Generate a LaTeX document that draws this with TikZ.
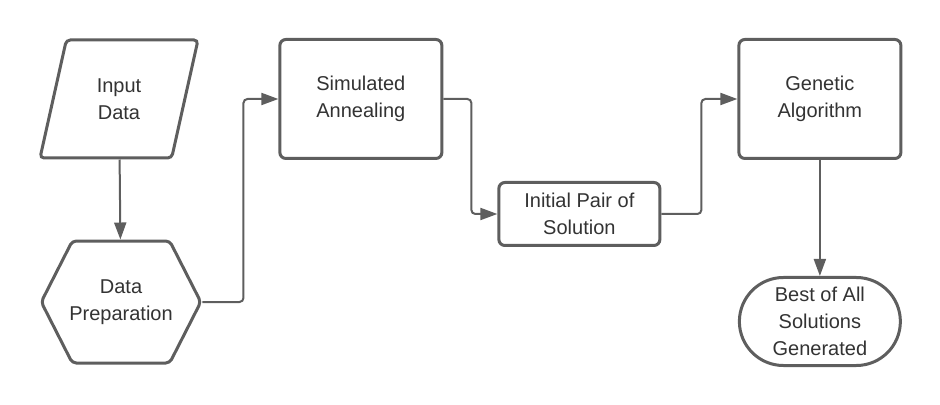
\documentclass[tikz,border=0pt]{standalone}
\usepackage{fontspec}
\setmainfont{Liberation Sans}
\usepackage{tikz}
\usetikzlibrary{shapes.geometric, shapes.symbols, arrows.meta, positioning, calc}
\definecolor{linegray}{HTML}{5E5E5E}
\definecolor{textgray}{HTML}{333333}

\begin{document}
\begin{tikzpicture}[
  font=\fontsize{10}{13.5}\selectfont, text=textgray,
  base/.style={draw=linegray, line width=1.5pt, fill=white, align=center,
               inner sep=2pt},
  iobox/.style={base, trapezium, trapezium left angle=75,
                trapezium right angle=105, trapezium stretches=true,
                rounded corners=2pt, minimum width=79pt, minimum height=59pt},
  prepbox/.style={base, signal, signal from=nowhere, signal to=east and west,
                  signal pointer angle=126, rounded corners=2pt,
                  inner xsep=-1.5pt, minimum width=72pt, minimum height=61pt},
  procbox/.style={base, rectangle, rounded corners=3pt,
                  minimum width=81pt, minimum height=59.5pt},
  smallbox/.style={base, rectangle, rounded corners=3pt,
                   minimum width=80.5pt, minimum height=31.5pt},
  endbox/.style={base, rectangle, rounded corners=22pt,
                 minimum width=80.5pt, minimum height=44pt},
  arr/.style={-{Triangle[length=8.5pt,width=6pt]}, draw=linegray,
              line width=1pt, rounded corners=2pt},
]
  \useasboundingbox (-59.5pt,49.5pt) rectangle (410.5pt,-153pt);

  %% left column
  \node[iobox] (indata) at (0,0) {Input\\Data};
  \node[prepbox, below=40pt of indata, xshift=1pt] (prep) {Data\\Preparation};

  %% middle
  \node[procbox, right=46pt of indata] (anneal) {Simulated\\Annealing};
  \node[smallbox, below right=10.5pt and 27pt of anneal] (pair) {Initial Pair of\\Solution};

  %% right column
  \node[procbox, above right=10.5pt and 38pt of pair] (genetic) {Genetic\\Algorithm};
  \node[endbox, below=58pt of genetic] (best) {Best of All\\Solutions\\Generated};

  \draw[arr] (indata) -- (prep);
  \draw[arr] (prep.east) -- ++(20.5pt,0) |- (anneal.west);
  \draw[arr] (anneal.east) -- ++(14pt,0) |- (pair.west);
  \draw[arr] (pair.east) -- ++(20pt,0) |- (genetic.west);
  \draw[arr] (genetic) -- (best);

\end{tikzpicture}
\end{document}
